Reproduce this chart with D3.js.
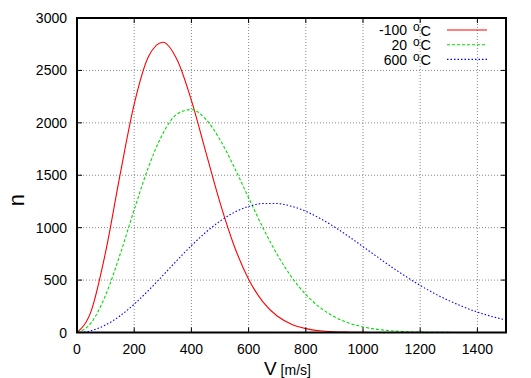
<!DOCTYPE html>
<html>
<head>
<meta charset="utf-8">
<script src="https://cdn.jsdelivr.net/npm/d3@7"></script>
<style>
    body { margin: 0; background: #ffffff; }
    text { font-family: "Liberation Sans", Arial, sans-serif; fill: #000000; }
</style>
</head>
<body>
<div id="chart"></div>
<script>
(function () {
    "use strict";

    // speeds in m/s
    var velocity = [0, 50, 100, 150, 200, 250, 300, 350, 400, 450, 500, 550, 600, 650, 700, 750,
        800, 850, 900, 950, 1000, 1050, 1100, 1150, 1200, 1250, 1300, 1350, 1400, 1450, 1500];

    var nMinus100 = [0, 209, 767, 1496, 2178, 2632, 2769, 2601, 2214, 1725, 1239, 823, 508, 292, 157, 79,
        37, 16, 7, 3, 1, 0, 0, 0, 0, 0, 0, 0, 0, 0, 0];
    var n20 = [0, 94, 356, 739, 1171, 1578, 1896, 2084, 2127, 2036, 1839, 1576, 1285, 1000, 744, 530,
        362, 238, 150, 91, 53, 30, 16, 8, 4, 2, 1, 0, 0, 0, 0];
    var n600 = [0, 18, 72, 158, 270, 401, 543, 689, 828, 955, 1062, 1146, 1202, 1230, 1230, 1204,
        1156, 1088, 1007, 916, 819, 721, 625, 534, 449, 372, 305, 246, 195, 153, 119];

    var seriesNames = ["-100", "20", "600"];
    var xTicks = [0, 200, 400, 600, 800, 1000, 1200, 1400];
    var yTicks = [0, 500, 1000, 1500, 2000, 2500, 3000];

    var w = 531;
    var h = 378;
    var left = 77, right = 506, top = 18, bottom = 332.5;

    var svg = d3.select("#chart")
                .append("svg")
                .attr("width", w)
                .attr("height", h);

    var x = d3.scaleLinear().domain([0, 1500]).range([left, right]);
    var y = d3.scaleLinear().domain([0, 3000]).range([bottom, top]);

    //grid
    svg.selectAll("line.vgrid")
        .data(xTicks.slice(1))
        .enter()
        .append("line")
        .attr("x1", function (d) { return x(d); })
        .attr("x2", function (d) { return x(d); })
        .attr("y1", top)
        .attr("y2", bottom)
        .attr("stroke", "#888888")
        .attr("stroke-width", 1)
        .attr("stroke-dasharray", "1,2");

    svg.selectAll("line.hgrid")
        .data(yTicks.slice(1, -1))
        .enter()
        .append("line")
        .attr("x1", left)
        .attr("x2", right)
        .attr("y1", function (d) { return y(d); })
        .attr("y2", function (d) { return y(d); })
        .attr("stroke", "#888888")
        .attr("stroke-width", 1)
        .attr("stroke-dasharray", "1,2");

    svg.append("clipPath")
        .attr("id", "plotclip")
        .append("rect")
        .attr("x", left)
        .attr("y", top)
        .attr("width", right - left)
        .attr("height", bottom - top);

    var series = [
        { name: seriesNames[0], values: nMinus100, color: "#ff0000", dash: null },
        { name: seriesNames[1], values: n20, color: "#00dd00", dash: "3,2" },
        { name: seriesNames[2], values: n600, color: "#0000ff", dash: "1.5,2" }
    ];

    var line = d3.line()
        .x(function (d, i) { return x(velocity[i]); })
        .y(function (d) { return y(d); })
        .curve(d3.curveMonotoneX);

    svg.append("g")
        .attr("clip-path", "url(#plotclip)")
        .selectAll("path")
        .data(series)
        .enter()
        .append("path")
        .attr("d", function (s) { return line(s.values); })
        .attr("fill", "none")
        .attr("stroke", function (s) { return s.color; })
        .attr("stroke-width", 1.1)
        .attr("stroke-dasharray", function (s) { return s.dash; });

    // ticks on all four sides, pointing in
    var tickLen = 5;
    var ticks = svg.append("g").attr("stroke", "#000000").attr("stroke-width", 1);
    xTicks.forEach(function (t) {
        ticks.append("line").attr("x1", x(t)).attr("x2", x(t)).attr("y1", bottom).attr("y2", bottom - tickLen);
        ticks.append("line").attr("x1", x(t)).attr("x2", x(t)).attr("y1", top).attr("y2", top + tickLen);
    });
    yTicks.forEach(function (t) {
        ticks.append("line").attr("x1", left).attr("x2", left + tickLen).attr("y1", y(t)).attr("y2", y(t));
        ticks.append("line").attr("x1", right).attr("x2", right - tickLen).attr("y1", y(t)).attr("y2", y(t));
    });

    svg.append("rect")
        .attr("x", left)
        .attr("y", top)
        .attr("width", right - left)
        .attr("height", bottom - top)
        .attr("fill", "none")
        .attr("stroke", "#000000")
        .attr("stroke-width", 2);

    svg.selectAll("text.xlab")
        .data(xTicks)
        .enter()
        .append("text")
        .attr("x", function (d) { return x(d); })
        .attr("y", 354)
        .attr("text-anchor", "middle")
        .style("font-size", "14px")
        .text(function (d) { return d; });

    svg.selectAll("text.ylab")
        .data(yTicks)
        .enter()
        .append("text")
        .attr("x", 67)
        .attr("y", function (d) { return y(d) + 5; })
        .attr("text-anchor", "end")
        .style("font-size", "14px")
        .text(function (d) { return d; });

    // axis titles
    var xt = svg.append("text")
        .attr("x", 264)
        .attr("y", 375);
    xt.append("tspan").style("font-size", "19px").text("V");
    xt.append("tspan").style("font-size", "14px").text(" [m/s]");

    svg.append("text")
        .attr("transform", "translate(24,200) rotate(-90)")
        .attr("text-anchor", "middle")
        .style("font-size", "22px")
        .text("n");

    // legend
    var rowY = [30, 44.7, 59.4];
    series.forEach(function (s, i) {
        var ly = rowY[i];
        svg.append("text")
            .attr("x", 407)
            .attr("y", ly + 5.2)
            .attr("text-anchor", "end")
            .style("font-size", "14px")
            .text(s.name);
        svg.append("text")
            .attr("x", 413)
            .attr("y", ly + 1.2)
            .style("font-size", "12px")
            .text("o");
        svg.append("text")
            .attr("x", 420.5)
            .attr("y", ly + 5.6)
            .style("font-size", "14.5px")
            .text("C");
        svg.append("line")
            .attr("x1", 447)
            .attr("x2", 487)
            .attr("y1", ly)
            .attr("y2", ly)
            .attr("stroke", s.color)
            .attr("stroke-width", 1.1)
            .attr("stroke-dasharray", s.dash);
    });
})();
</script>
</body>
</html>
